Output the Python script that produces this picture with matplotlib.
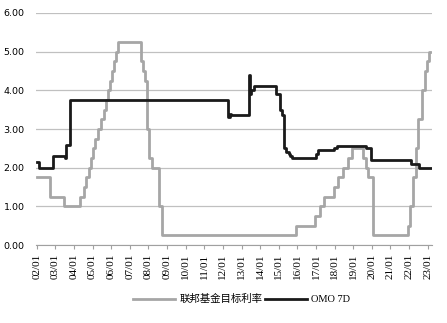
import matplotlib
matplotlib.use("Agg")
import matplotlib.pyplot as plt
import numpy as np

plt.rcParams["font.family"] = ["DejaVu Sans"]

# ---- data: change points (fractional year, rate %) ----
FED_T = [2002.0, 2002.7, 2003.45, 2004.3, 2004.55, 2004.65, 2004.8, 2004.9, 2005.05, 2005.15,
         2005.3, 2005.45, 2005.6, 2005.7, 2005.85, 2005.95, 2006.05, 2006.15, 2006.25, 2006.35,
         2007.6, 2007.7, 2007.8, 2007.9, 2008.05, 2008.2, 2008.55, 2008.75,
         2015.9, 2016.95, 2017.2, 2017.45, 2017.95, 2018.2, 2018.45, 2018.7, 2018.95,
         2019.5, 2019.7, 2019.8, 2020.05, 2021.95, 2022.05, 2022.2, 2022.35, 2022.5,
         2022.7, 2022.85, 2022.95, 2023.05, 2023.15]
FED_V = [1.75, 1.25, 1.00, 1.25, 1.50, 1.75, 2.00, 2.25, 2.50, 2.75,
         3.00, 3.25, 3.50, 3.75, 4.00, 4.25, 4.50, 4.75, 5.00, 5.25,
         4.75, 4.50, 4.25, 3.00, 2.25, 2.00, 1.00, 0.25,
         0.50, 0.75, 1.00, 1.25, 1.50, 1.75, 2.00, 2.25, 2.50,
         2.25, 2.00, 1.75, 0.25, 0.50, 1.00, 1.75, 2.50, 3.25,
         4.00, 4.50, 4.75, 5.00, 5.00]

OMO_T = [2002.0, 2002.1, 2002.86, 2003.5, 2003.56, 2003.77, 2012.27, 2012.38, 2012.45,
         2013.42, 2013.47, 2013.52, 2013.67, 2014.85, 2015.06, 2015.17, 2015.28, 2015.39,
         2015.55, 2015.6, 2015.7, 2017.0, 2017.1, 2017.97, 2018.15, 2019.7, 2019.95,
         2022.1, 2022.55, 2023.2]
OMO_V = [2.15, 2.00, 2.30, 2.25, 2.60, 3.75, 3.30, 3.40, 3.35,
         4.40, 3.90, 4.00, 4.10, 3.90, 3.50, 3.35, 2.50, 2.40,
         2.35, 2.30, 2.25, 2.35, 2.45, 2.50, 2.55, 2.50, 2.20,
         2.10, 2.00, 2.00]

YEARS = list(range(2002, 2024))
XLABELS = [f"{y % 100:02d}/01" for y in YEARS]
YTICKS = [0, 1, 2, 3, 4, 5, 6]

fig = plt.figure(figsize=(4.47, 3.23), dpi=100)
ax = fig.add_axes([0.080, 0.241, 0.886, 0.719])

ax.plot(FED_T, FED_V, drawstyle="steps-post", color="#a6a6a6", lw=2.0,
        label="联邦基金目标利率")
ax.plot(OMO_T, OMO_V, drawstyle="steps-post", color="#1a1a1a", lw=2.0,
        label="OMO 7D")

ax.set_xlim(2001.95, 2023.22)
ax.set_ylim(0, 6)
ax.set_yticks(YTICKS)
ax.set_yticklabels([f"{v:.2f}" for v in YTICKS], fontsize=6.8)
ax.set_xticks(YEARS)
ax.set_xticklabels(XLABELS, rotation=90, fontsize=8, family="Liberation Serif")

ax.yaxis.grid(True, color="#c0c0c0", lw=0.9)
ax.set_axisbelow(True)
for s in ["top", "right", "left"]:
    ax.spines[s].set_visible(False)
ax.spines["bottom"].set_color("#a0a0a0")
ax.tick_params(axis="y", length=0, pad=8)
ax.tick_params(axis="x", length=3, color="#a0a0a0", pad=3)

leg = ax.legend(loc="upper center", bbox_to_anchor=(0.52, -0.17), ncol=2, frameon=False,
                fontsize=7.5, handlelength=4, columnspacing=0.3, handletextpad=0.4)
leg.get_texts()[0].set_family(["Noto Sans CJK SC", "DejaVu Sans"])
leg.get_texts()[1].set_family("Liberation Serif")

fig.savefig("out.png", dpi=100)
